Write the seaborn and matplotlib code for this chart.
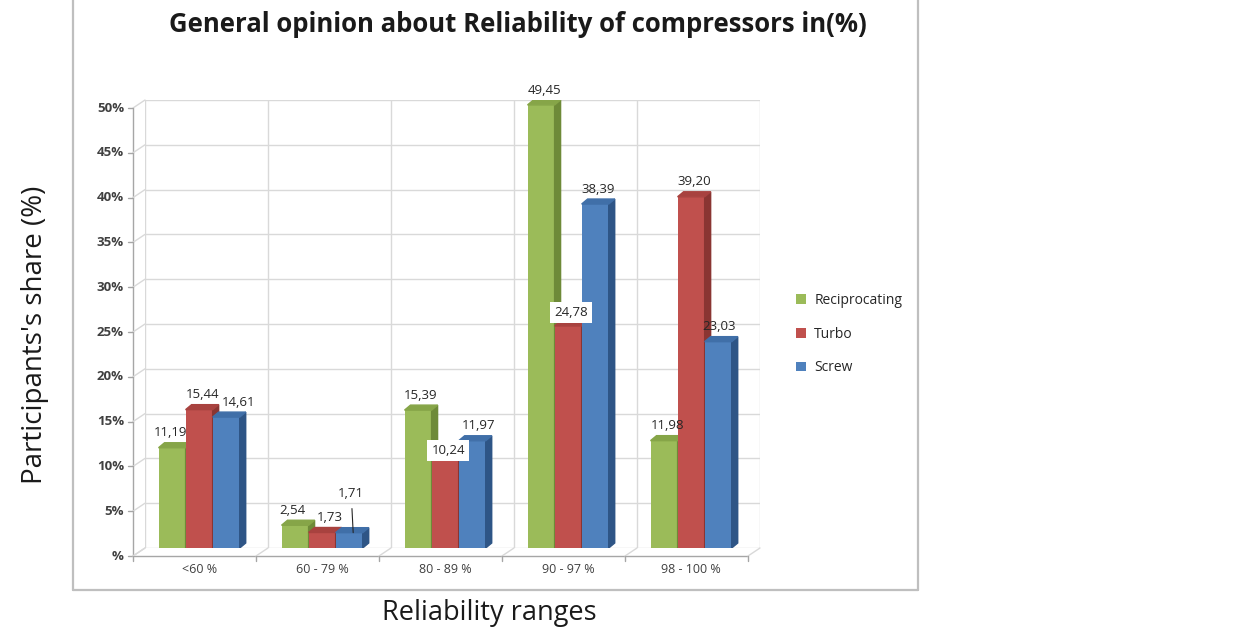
import numpy as np
import pandas as pd
import matplotlib
matplotlib.use("Agg")
import matplotlib.pyplot as plt
from matplotlib.patches import Polygon, Patch
from matplotlib.lines import Line2D
import seaborn as sns

# data
ranges = ["<60 %", "60 - 79 %", "80 - 89 %", "90 - 97 %", "98 - 100 %"]
series = ["Reciprocating", "Turbo", "Screw"]
reciprocating = [11.19, 2.54, 15.39, 49.45, 11.98]
turbo = [15.44, 1.73, 10.24, 24.78, 39.20]
screw = [14.61, 1.71, 11.97, 38.39, 23.03]
y_ticks = [0, 5, 10, 15, 20, 25, 30, 35, 40, 45, 50]

FRONT = {"Reciprocating": "#9BBB59", "Turbo": "#C0504D", "Screw": "#4F81BD"}
TOP = {"Reciprocating": "#86A548", "Turbo": "#A8423F", "Screw": "#406FA8"}
SIDE = {"Reciprocating": "#6E8A38", "Turbo": "#8A3532", "Screw": "#2E5586"}
GRID = "#d9d9d9"

df = pd.DataFrame({
    "range": ranges * 3,
    "share": reciprocating + turbo + screw,
    "type": [s for s in series for _ in ranges],
})

sns.set_theme(style="white")
plt.rcParams["font.family"] = ["Open Sans", "DejaVu Sans"]

W, H = 1260, 628
fig = plt.figure(figsize=(12.6, 6.28), dpi=100)
ax = fig.add_axes([145 / W, 1 - 548 / H, 615 / W, 448 / H])

sns.barplot(data=df, x="range", y="share", hue="type", palette=FRONT,
            hue_order=series, width=0.66, saturation=1, legend=False, ax=ax)

xl, xr = -0.44, 4.56
ax.set_xlim(xl, xr)
ax.set_ylim(0, 50)
for s in ax.spines.values():
    s.set_visible(False)

# pixel -> data helpers
px_x = (xr - xl) / 615
px_y = 50 / 448
DX, DY = -12 * px_x, -8 * px_y

# back wall grid
for yt in y_ticks:
    ax.plot([xl, xr], [yt, yt], color=GRID, lw=1, zorder=0.5)
for b in np.arange(xl, xr + 0.01, 1.0):
    ax.plot([b, b], [0, 50], color=GRID, lw=1, zorder=0.5)

# front axes (floor + left)
ax.plot([xl + DX, xl + DX], [DY, 50 + DY], color="#a6a6a6", lw=1, clip_on=False)
ax.plot([xl + DX, xr + DX], [DY, DY], color="#a6a6a6", lw=1, clip_on=False)
for yt in y_ticks:
    ax.plot([xl, xl + DX], [yt, yt + DY], color=GRID, lw=1, clip_on=False)
    ax.plot([xl + DX, xl + DX - 5 * px_x], [yt + DY, yt + DY],
            color="#a6a6a6", lw=1, clip_on=False)
    ax.text(xl + DX - 9 * px_x, yt + DY, f"{yt}%" if yt else "%",
            ha="right", va="center", fontsize=9.5, color="#404040",
            fontweight="bold")
for b in np.arange(xl, xr + 0.01, 1.0):
    ax.plot([b, b + DX], [0, DY], color=GRID, lw=1, clip_on=False)
    ax.plot([b + DX, b + DX], [DY, DY - 5 * px_y], color="#a6a6a6",
            lw=1, clip_on=False)

ax.set_xlabel("")
ax.set_ylabel("")
ax.set_yticks([])
ax.tick_params(axis="x", length=0, pad=11, labelsize=9, labelcolor="#404040")

# 3d faces + data labels
ddx, ddy = 6 * px_x, 5 * px_y
nudge = {("Reciprocating", 0): (-5, 0), ("Screw", 0): (9, 0),
         ("Reciprocating", 1): (-6, 0), ("Turbo", 1): (5, 0),
         ("Screw", 2): (3, 0), ("Screw", 4): (-2, 0)}
for i, (name, cont) in enumerate(zip(series, ax.containers)):
    for j, rect in enumerate(cont.patches):
        rect.set_zorder(3 + i)
        rect.set_edgecolor("none")
        x0, w, h = rect.get_x(), rect.get_width(), rect.get_height()
        side = Polygon([(x0 + w, 0), (x0 + w + ddx, ddy), (x0 + w + ddx, h + ddy),
                        (x0 + w, h)], closed=True, color=SIDE[name], zorder=3 + i)
        top = Polygon([(x0, h), (x0 + ddx, h + ddy), (x0 + w + ddx, h + ddy),
                       (x0 + w, h)], closed=True, color=TOP[name], zorder=3 + i)
        ax.add_patch(side)
        ax.add_patch(top)

        cx = x0 + w / 2 + 3 * px_x
        nx, ny = nudge.get((name, j), (0, 0))
        txt = f"{h:.2f}".replace(".", ",")
        kw = dict(ha="center", va="center", fontsize=9.5, color="#262626", zorder=10)
        if name == "Screw" and j == 1:
            ax.annotate(txt, xy=(cx + 1 * px_x, h), xytext=(cx - 1 * px_x, h + 4.4),
                        arrowprops=dict(arrowstyle="-", color="#262626", lw=0.8,
                                        shrinkA=4, shrinkB=0), **kw)
        elif name == "Turbo" and j in (2, 3):
            off = 0.6 if j == 2 else 1.5
            ax.text(cx, h + off, txt,
                    bbox=dict(boxstyle="square,pad=0.3", fc="white", ec="none"), **kw)
        else:
            ax.text(cx + nx * px_x, h + 1.65 + ny * px_y, txt, **kw)

# legend
handles = [Patch(facecolor=FRONT[s], edgecolor="none") for s in series]
fig.legend(handles, series, loc="center left", bbox_to_anchor=(0.622, 0.468),
           frameon=False, fontsize=10, handlelength=0.7, handleheight=0.7,
           labelspacing=1.35, handletextpad=0.6)

# chart frame
frame = dict(transform=fig.transFigure, color="#bfbfbf", lw=1.6)
fig.add_artist(Line2D([73 / W, 73 / W], [1, 1 - 590 / H], **frame))
fig.add_artist(Line2D([73 / W, 918 / W], [1 - 590 / H, 1 - 590 / H], **frame))
fig.add_artist(Line2D([918 / W, 918 / W], [1, 1 - 590 / H], **frame))

fig.text(518 / W, 1 - 25 / H, "General opinion about Reliability of compressors in(%)",
         ha="center", va="center", fontsize=18.5, fontweight="bold", color="#1a1a1a")
fig.text(35 / W, 1 - 335 / H, "Participants's share (%)", rotation=90,
         ha="center", va="center", fontsize=20, color="#1a1a1a")
fig.text(489 / W, 1 - 613 / H, "Reliability ranges",
         ha="center", va="center", fontsize=19.5, color="#1a1a1a")

fig.savefig("out.png", dpi=100, facecolor="white")
plt.close(fig)
